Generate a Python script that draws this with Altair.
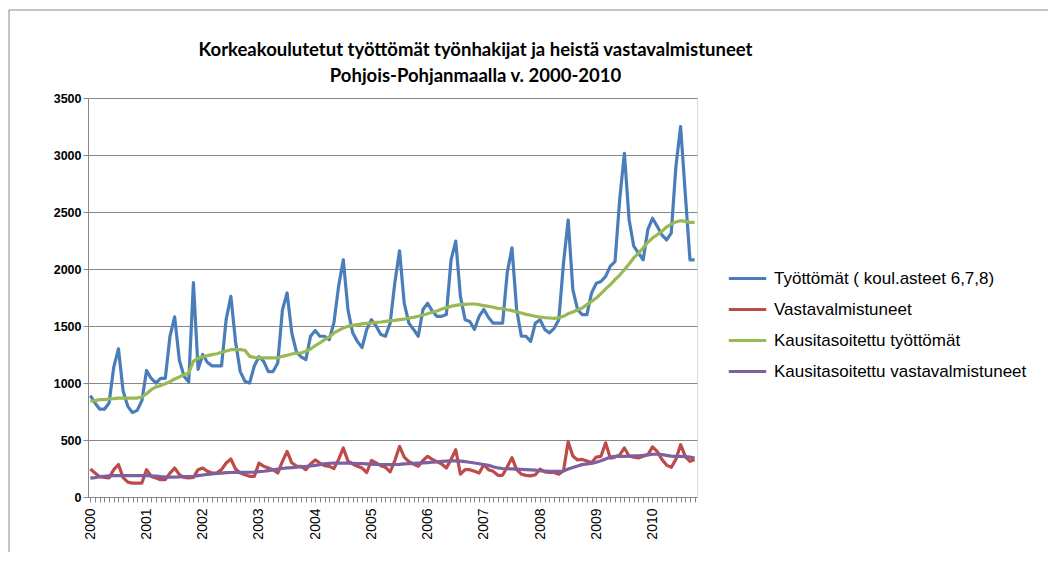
import altair as alt
import pandas as pd

# ---- data, monthly Jan 2000 .. Oct 2010 ----
series_names = [
    "Työttömät  ( koul.asteet 6,7,8)",
    "Vastavalmistuneet",
    "Kausitasoitettu  työttömät",
    "Kausitasoitettu  vastavalmistuneet",
]
series_colors = ["#4A7EBB", "#BE4B48", "#98B954", "#7D60A0"]

year_labels = [str(y) for y in range(2000, 2011)]

tyottomat = [
    890, 825, 770, 770, 825, 1140, 1300, 930, 795, 740, 760, 845,
    1110, 1040, 1000, 1040, 1040, 1410, 1580, 1200, 1060, 1010, 1880, 1120,
    1250, 1180, 1150, 1150, 1150, 1560, 1760, 1360, 1100, 1015, 1000, 1150,
    1230, 1190, 1100, 1100, 1175, 1640, 1790, 1440, 1270, 1230, 1205, 1410,
    1460, 1410, 1410, 1380, 1530, 1850, 2080, 1640, 1440, 1365, 1310, 1470,
    1555, 1500, 1425, 1410, 1525, 1880, 2160, 1700, 1525, 1470, 1410, 1645,
    1700, 1630, 1585, 1585, 1600, 2080, 2245, 1760, 1555, 1540, 1470, 1585,
    1645, 1575, 1525, 1525, 1525, 1970, 2185, 1645, 1410, 1410, 1365, 1525,
    1555, 1470, 1440, 1480, 1555, 2050, 2430, 1820, 1645, 1600, 1600, 1790,
    1875, 1890, 1935, 2025, 2065, 2610, 3015, 2435, 2200, 2140, 2080, 2345,
    2445, 2375, 2300, 2255, 2315, 2900, 3250, 2660, 2080, 2080,
]

vastavalmistuneet = [
    245, 210, 178, 172, 167, 240, 285, 170, 130, 122, 122, 122,
    240, 181, 167, 152, 152, 210, 254, 196, 172, 167, 172, 240,
    254, 225, 210, 210, 240, 298, 333, 246, 210, 196, 181, 181,
    298, 269, 254, 240, 210, 313, 400, 300, 272, 269, 240, 290,
    325, 298, 275, 269, 250, 330, 430, 315, 290, 270, 254, 215,
    320, 298, 275, 260, 220, 320, 444, 350, 310, 290, 270, 320,
    357, 330, 310, 290, 254, 330, 415, 200, 240, 240, 225, 210,
    284, 240, 225, 190, 190, 265, 345, 240, 200, 190, 185, 195,
    245, 220, 215, 215, 200, 230, 485, 360, 325, 330, 315, 300,
    350, 357, 475, 340, 350, 370, 430, 360, 350, 342, 357, 370,
    440, 400, 330, 280, 260, 330, 459, 357, 313, 327,
]

kausi_tyottomat = [
    840, 845, 854, 854, 860, 863, 868, 868, 868, 868, 868, 877,
    906, 941, 965, 977, 994, 1012, 1035, 1053, 1073, 1088, 1190, 1220,
    1228, 1240, 1249, 1257, 1269, 1281, 1292, 1292, 1292, 1287, 1234, 1225,
    1220, 1220, 1220, 1220, 1220, 1234, 1243, 1254, 1263, 1263, 1278, 1298,
    1327, 1351, 1380, 1404, 1439, 1462, 1482, 1497, 1506, 1512, 1518, 1523,
    1526, 1532, 1535, 1541, 1547, 1550, 1556, 1561, 1570, 1576, 1585, 1596,
    1608, 1620, 1632, 1649, 1661, 1672, 1681, 1687, 1690, 1693, 1693, 1687,
    1678, 1672, 1664, 1655, 1652, 1643, 1635, 1623, 1614, 1602, 1594, 1585,
    1579, 1573, 1570, 1567, 1573, 1585, 1608, 1623, 1643, 1658, 1687, 1716,
    1746, 1784, 1825, 1863, 1906, 1947, 1994, 2044, 2097, 2140, 2184, 2234,
    2272, 2301, 2330, 2368, 2395, 2412, 2424, 2418, 2409, 2409,
]

kausi_vastavalmistuneet = [
    165, 170, 178, 182, 185, 187, 187, 187, 187, 187, 187, 187,
    187, 186, 183, 178, 175, 175, 175, 176, 178, 180, 182, 188,
    193, 198, 203, 207, 210, 213, 215, 216, 216, 216, 217, 219,
    222, 226, 232, 238, 244, 250, 255, 258, 262, 265, 268, 272,
    278, 284, 290, 295, 298, 298, 298, 297, 295, 293, 292, 290,
    288, 286, 285, 284, 284, 285, 287, 290, 292, 295, 297, 299,
    302, 305, 308, 312, 315, 318, 317, 314, 310, 305, 298, 292,
    285, 278, 265, 255, 250, 248, 246, 244, 242, 240, 238, 235,
    230, 228, 226, 225, 225, 228, 245, 258, 272, 284, 290, 295,
    305, 318, 333, 350, 357, 357, 357, 358, 360, 362, 365, 370,
    375, 377, 372, 365, 358, 357, 357, 355, 350, 342,
]

all_series = [tyottomat, vastavalmistuneet, kausi_tyottomat, kausi_vastavalmistuneet]

rows = []
for s_idx, (name, vals) in enumerate(zip(series_names, all_series)):
    for m, v in enumerate(vals):
        rows.append({"m": m, "value": v, "series": name, "s": s_idx})
df = pd.DataFrame(rows)

W, H = 609, 399

label_expr = "datum.value % 12 == 0 ? toString(2000 + floor(datum.value / 12)) : ''"

lines = alt.Chart(df).mark_line(strokeWidth=3.2, strokeJoin="round").encode(
    x=alt.X(
        "m:O",
        title=None,
        scale=alt.Scale(paddingOuter=0.5),
        axis=alt.Axis(
            labelExpr=label_expr,
            labelAngle=-90,
            labelAlign="right",
            labelBaseline="middle",
            labelOverlap=False,
            labelFont="Liberation Sans",
            labelFontSize=14,
            labelColor="#000000",
            labelPadding=6,
            ticks=True,
            tickSize=5,
            tickColor="#878787",
            domainColor="#878787",
            grid=False,
        ),
    ),
    y=alt.Y(
        "value:Q",
        title=None,
        scale=alt.Scale(domain=[0, 3500], nice=False),
        axis=alt.Axis(
            values=[0, 500, 1000, 1500, 2000, 2500, 3000, 3500],
            format="d",
            labelFont="Liberation Sans",
            labelFontSize=12.5,
            labelFontWeight="bold",
            labelColor="#000000",
            labelPadding=2,
            tickSize=5,
            tickColor="#878787",
            domainColor="#878787",
            gridColor="#878787",
            gridWidth=1,
        ),
    ),
    color=alt.Color(
        "series:N",
        sort=series_names,
        scale=alt.Scale(domain=series_names, range=series_colors),
        legend=alt.Legend(
            title=None,
            orient="none",
            legendX=639,
            legendY=160,
            symbolType="stroke",
            symbolSize=1400,
            symbolStrokeWidth=3,
            labelFont="Liberation Sans",
            labelFontSize=17,
            labelColor="#000000",
            labelOffset=6,
            rowPadding=2,
            labelLimit=400,
        ),
    ),
    detail="s:O",
)

frame = alt.Chart(pd.DataFrame({"k": [0]})).mark_rect(
    fill=None, stroke="#8a8a8a", strokeWidth=1
).encode(
    x=alt.value(-79), x2=alt.value(W + 400), y=alt.value(-88), y2=alt.value(H + 100)
)

chart = alt.layer(frame, lines).properties(
    width=W,
    height=H,
    title=alt.TitleParams(
        text=[
            "Korkeakoulutetut työttömät työnhakijat  ja heistä vastavalmistuneet",
            "Pohjois-Pohjanmaalla  v. 2000-2010",
        ],
        font="Lato",
        fontSize=18.5,
        fontWeight="bold",
        color="#000000",
        anchor="middle",
        frame="group",
        dx=83,
        offset=-76,
        lineHeight=26,
    ),
    autosize=alt.AutoSizeParams(type="none"),
    padding={"left": 80, "top": 90, "right": 351, "bottom": 55},
).configure_view(stroke=None).configure(background="#ffffff")

chart.save("out.html", embed_options={"renderer": "svg", "actions": False})
